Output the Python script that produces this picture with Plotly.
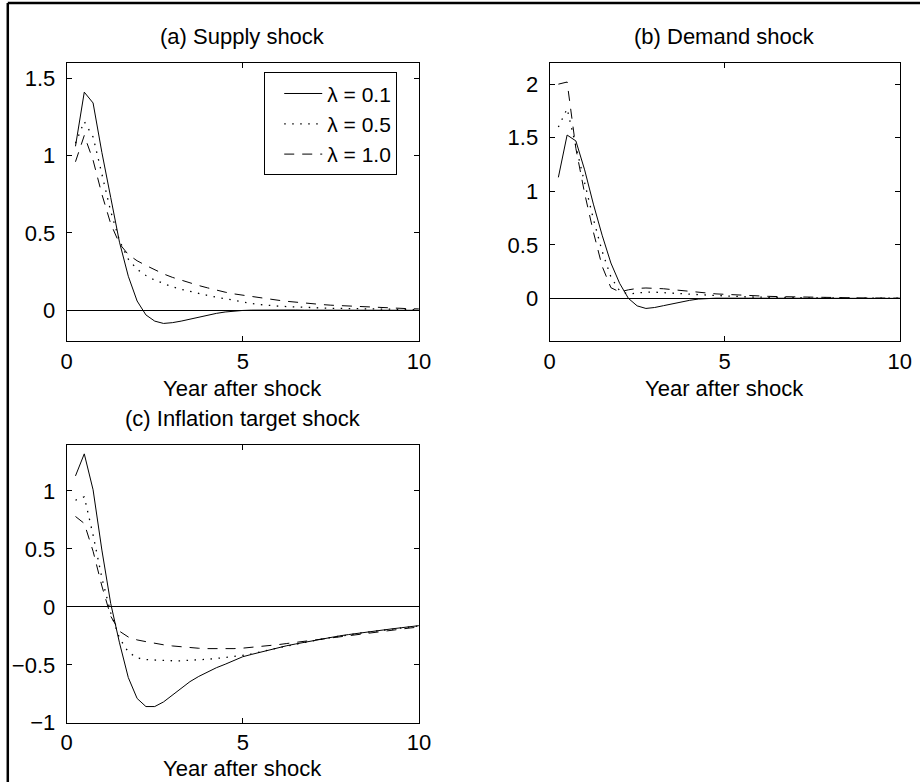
import plotly.graph_objects as go

# ---------------- data ----------------
t = [0.25, 0.5, 0.75, 1.0, 1.25, 1.5, 1.75, 2.0, 2.25, 2.5,
     2.75, 3.0, 3.25, 3.5, 3.75, 4.0, 4.25, 4.5, 4.75, 5.0,
     5.25, 5.5, 5.75, 6.0, 6.25, 6.5, 6.75, 7.0, 7.25, 7.5,
     7.75, 8.0, 8.25, 8.5, 8.75, 9.0, 9.25, 9.5, 9.75, 10.0]

series_names = ["\u03bb = 0.1", "\u03bb = 0.5", "\u03bb = 1.0"]

# (a) Supply shock
supply_l01 = [1.06, 1.41, 1.34, 1.02, 0.73, 0.44, 0.22, 0.06, -0.03, -0.07,
              -0.085, -0.08, -0.07, -0.057, -0.044, -0.031, -0.02, -0.011, -0.005, -0.001,
              0.001, 0.002, 0.002, 0.002, 0.002, 0.002, 0.001, 0.001, 0.001, 0.001,
              0.001, 0.0, 0.0, 0.0, 0.0, 0.0, 0.0, 0.0, 0.0, 0.0]
supply_l05 = [1.08, 1.22, 1.12, 0.88, 0.64, 0.45, 0.33, 0.265, 0.225, 0.195,
              0.172, 0.152, 0.136, 0.122, 0.108, 0.096, 0.085, 0.075, 0.062, 0.052,
              0.044, 0.037, 0.031, 0.027, 0.024, 0.021, 0.019, 0.017, 0.015, 0.013,
              0.012, 0.011, 0.010, 0.009, 0.008, 0.007, 0.006, 0.005, 0.005, 0.004]
supply_l10 = [0.96, 1.13, 0.97, 0.75, 0.56, 0.43, 0.36, 0.32, 0.29, 0.26,
              0.235, 0.213, 0.194, 0.176, 0.16, 0.145, 0.13, 0.117, 0.106, 0.097,
              0.088, 0.08, 0.072, 0.065, 0.058, 0.052, 0.046, 0.041, 0.037, 0.033,
              0.03, 0.027, 0.024, 0.021, 0.018, 0.016, 0.014, 0.012, 0.01, 0.009]

# (b) Demand shock
demand_l01 = [1.13, 1.525, 1.47, 1.2, 0.88, 0.59, 0.33, 0.14, 0.0, -0.07,
              -0.094, -0.085, -0.068, -0.05, -0.033, -0.018, -0.006, 0.0, 0.002, 0.002,
              0.002, 0.001, 0.001, 0.001, 0.001, 0.001, 0.0, 0.0, 0.0, 0.0,
              0.0, 0.0, 0.0, 0.0, 0.0, 0.0, 0.0, 0.0, 0.0, 0.0]
demand_l05 = [1.6, 1.77, 1.42, 1.08, 0.74, 0.44, 0.2, 0.07, 0.04, 0.05,
              0.058, 0.058, 0.055, 0.05, 0.045, 0.04, 0.035, 0.03, 0.026, 0.022,
              0.019, 0.016, 0.013, 0.011, 0.009, 0.008, 0.007, 0.006, 0.005, 0.004,
              0.004, 0.003, 0.003, 0.002, 0.002, 0.002, 0.001, 0.001, 0.001, 0.001]
demand_l10 = [2.0, 2.02, 1.4, 0.98, 0.62, 0.3, 0.1, 0.06, 0.08, 0.093,
              0.097, 0.095, 0.09, 0.082, 0.073, 0.064, 0.055, 0.047, 0.042, 0.038,
              0.033, 0.028, 0.025, 0.022, 0.019, 0.017, 0.015, 0.013, 0.011, 0.01,
              0.009, 0.008, 0.007, 0.006, 0.005, 0.004, 0.004, 0.003, 0.003, 0.002]

# (c) Inflation target shock
target_l01 = [1.13, 1.32, 1.01, 0.49, 0.03, -0.31, -0.61, -0.79, -0.86, -0.86,
              -0.82, -0.76, -0.70, -0.645, -0.6, -0.56, -0.525, -0.495, -0.46, -0.43,
              -0.41, -0.39, -0.37, -0.35, -0.335, -0.32, -0.305, -0.29, -0.276, -0.263,
              -0.25, -0.239, -0.228, -0.218, -0.208, -0.198, -0.189, -0.18, -0.171, -0.162]
target_l05 = [0.92, 0.95, 0.62, 0.25, -0.05, -0.27, -0.39, -0.44, -0.455, -0.46,
              -0.465, -0.465, -0.465, -0.462, -0.458, -0.452, -0.445, -0.437, -0.428, -0.418,
              -0.405, -0.39, -0.372, -0.354, -0.338, -0.322, -0.307, -0.292, -0.278, -0.265,
              -0.252, -0.241, -0.23, -0.22, -0.21, -0.2, -0.191, -0.182, -0.173, -0.164]
target_l10 = [0.78, 0.72, 0.48, 0.18, -0.08, -0.21, -0.26, -0.285, -0.3, -0.315,
              -0.327, -0.337, -0.345, -0.352, -0.357, -0.36, -0.362, -0.362, -0.36, -0.356,
              -0.35, -0.343, -0.335, -0.326, -0.316, -0.306, -0.296, -0.286, -0.276, -0.266,
              -0.256, -0.246, -0.236, -0.227, -0.218, -0.209, -0.2, -0.191, -0.182, -0.174]

panel_titles = ["(a) Supply shock", "(b) Demand shock", "(c) Inflation target shock"]
x_label = "Year after shock"
x_ticks = [0, 5, 10]
y_ticks_a = [0, 0.5, 1, 1.5]
y_ticks_b = [0, 0.5, 1, 1.5, 2]
y_ticks_c = [-1, -0.5, 0, 0.5, 1]

# ---------------- figure ----------------
W, H = 940, 796
FONT = "Liberation Sans, Arial, Helvetica, sans-serif"
FS_TXT = 22
FS_TICK = 22
FS_LEG = 21

# the captured picture is the page scaled a little and shifted, so layout
# positions measured on the target picture are converted to page pixels
SX, OX, SY = 0.983, 5.2, 0.983


def px_x(p):
    return ((p - OX) / SX) / W


def px_y(p):
    return 1 - (p / SY) / H


styles = [dict(color="black", width=1, dash="solid"),
          dict(color="black", width=1.3, dash="1.5px,6.5px"),
          dict(color="black", width=1, dash="10px,8px")]

fig = go.Figure()

panels = [
    ("x", "y", [supply_l01, supply_l05, supply_l10], True),
    ("x2", "y2", [demand_l01, demand_l05, demand_l10], False),
    ("x3", "y3", [target_l01, target_l05, target_l10], False),
]
for xa, ya, ser, show in panels:
    for name, vals, st in zip(series_names, ser, styles):
        fig.add_trace(go.Scatter(x=t, y=vals, mode="lines", name=name,
                                 line=st, xaxis=xa, yaxis=ya,
                                 showlegend=show, hoverinfo="skip"))

axis_common = dict(showline=True, linecolor="black", linewidth=1, mirror="ticks",
                   ticks="inside", ticklen=5, tickcolor="black", tickwidth=1,
                   showgrid=False, tickfont=dict(family=FONT, size=FS_TICK, color="black"))

xa_dom = [px_x(66), px_x(419)]
xb_dom = [px_x(550), px_x(901)]
yab_dom = [px_y(341), px_y(62.7)]
yc_dom = [px_y(722.3), px_y(444.3)]

xcommon = dict(zeroline=False, ticklabelstandoff=0)
ycommon = dict(zeroline=True, zerolinecolor="black", zerolinewidth=1, ticklabelstandoff=6)

fig.update_layout(
    width=W, height=H,
    margin=dict(l=0, r=0, t=0, b=0),
    paper_bgcolor="white", plot_bgcolor="white",
    font=dict(family=FONT, size=FS_TXT, color="black"),
    xaxis=dict(domain=xa_dom, range=[0, 10], tickvals=x_ticks, anchor="y", **xcommon, **axis_common),
    yaxis=dict(domain=yab_dom, range=[-0.2, 1.6], tickvals=y_ticks_a, anchor="x", **ycommon, **axis_common),
    xaxis2=dict(domain=xb_dom, range=[0, 10], tickvals=x_ticks, anchor="y2", **xcommon, **axis_common),
    yaxis2=dict(domain=yab_dom, range=[-0.4, 2.2], tickvals=y_ticks_b, anchor="x2", **ycommon, **axis_common),
    xaxis3=dict(domain=xa_dom, range=[0, 10], tickvals=x_ticks, anchor="y3", **xcommon, **axis_common),
    yaxis3=dict(domain=yc_dom, range=[-1, 1.4], tickvals=y_ticks_c, anchor="x3", **ycommon, **axis_common),
    showlegend=True,
    hovermode=False,
    legend=dict(x=px_x(264), xanchor="left", y=px_y(72.3), yanchor="top",
                bgcolor="white", bordercolor="black", borderwidth=1,
                indentation=14, itemwidth=38,
                font=dict(family=FONT, size=FS_LEG, color="black")),
)

annots = [
    (panel_titles[0], (66 + 419) / 2, 36),
    (panel_titles[1], (550 + 901) / 2, 36),
    (panel_titles[2], (66 + 419) / 2, 418),
    (x_label, (66 + 419) / 2, 388),
    (x_label, (550 + 901) / 2, 388),
    (x_label, (66 + 419) / 2, 768),
]
for text, cx, cy in annots:
    fig.add_annotation(text=text, x=px_x(cx), y=px_y(cy), xref="paper", yref="paper",
                       xanchor="center", yanchor="middle", showarrow=False,
                       font=dict(family=FONT, size=FS_TXT, color="black"))

# outer frame (left and top edges; right and bottom lie outside the picture)
fig.add_shape(type="line", xref="paper", yref="paper",
              x0=px_x(7), x1=px_x(7), y0=0, y1=px_y(3), line=dict(color="black", width=2.5))
fig.add_shape(type="line", xref="paper", yref="paper",
              x0=px_x(7), x1=1, y0=px_y(3), y1=px_y(3), line=dict(color="black", width=2.5))

fig.write_html(
    "out.html",
    config={"displayModeBar": False, "responsive": False},
    post_script=("document.body.style.margin='0';document.body.style.padding='0';"
                 "document.documentElement.style.overflow='hidden';"
                 "document.body.style.overflow='hidden';"),
)
